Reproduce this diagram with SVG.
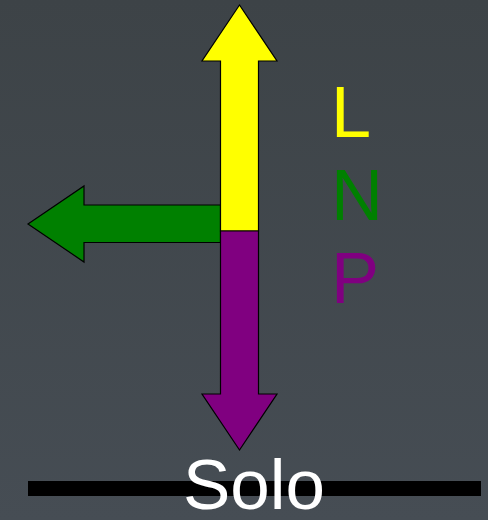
<svg xmlns="http://www.w3.org/2000/svg" width="488" height="520" viewBox="0 0 488 520">
<defs>
<linearGradient id="bg" x1="0" y1="0" x2="0" y2="1">
<stop offset="0" stop-color="#3d4347"/>
<stop offset="1" stop-color="#464d54"/>
</linearGradient>
<style>
.arrow{stroke:#000;stroke-width:1.2;stroke-linejoin:miter}
.lbl{font-family:"Liberation Sans",Arial,sans-serif;font-size:72px}
</style>
</defs>
<rect x="0" y="0" width="488" height="520" fill="url(#bg)"/>
<g id="connectors">
<g id="green-arrow"><polygon class="arrow" fill="#008000" points="220.5,205 84,205 84,186 28,224 84,262 84,242.5 220.5,242.5"/></g>
<g id="yellow-arrow"><polygon class="arrow" fill="#ffff00" points="220.5,231 220.5,61 202,61 239.5,5 277,61 258.5,61 258.5,231"/></g>
<g id="purple-arrow"><polygon class="arrow" fill="#800080" points="220.5,231 258.5,231 258.5,394 277,394 239.5,450 202,394 220.5,394"/></g>
</g>
<g id="legend">
<text class="lbl" x="331" y="137" fill="#ffff00">L</text>
<text class="lbl" x="331" y="220" fill="#008000">N</text>
<text class="lbl" x="331" y="303" fill="#800080">P</text>
</g>
<g id="ground">
<rect x="28" y="481" width="453" height="15" fill="#000"/>
<text x="254" y="509" text-anchor="middle" font-family="'Liberation Sans',Arial,sans-serif" font-size="71" fill="#fff">Solo</text>
</g>
</svg>
